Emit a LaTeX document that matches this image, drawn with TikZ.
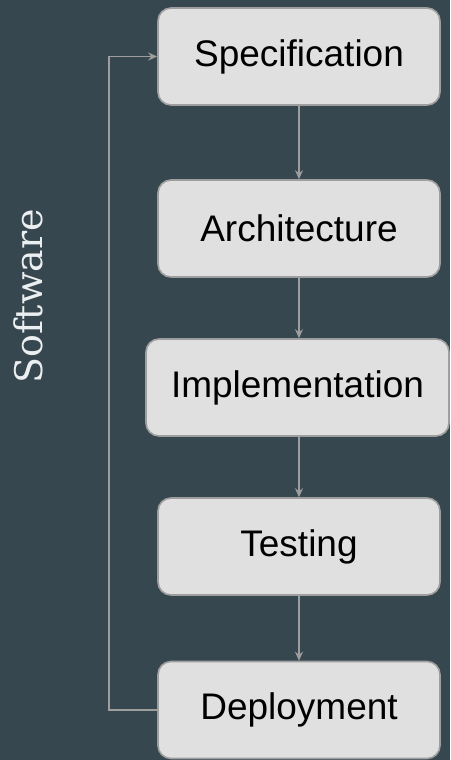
\documentclass[tikz,border=0pt]{standalone}
\usepackage{fontspec}
\setmainfont{Liberation Sans}
\newfontfamily\labelserif{DejaVu Serif}
\usetikzlibrary{arrows.meta}
\definecolor{bgslate}{HTML}{37474F}
\definecolor{boxfill}{HTML}{E0E0E0}
\definecolor{boxline}{HTML}{9E9E9E}
\definecolor{lblwhite}{HTML}{ECEFF1}
\tikzset{
  stagebox/.style={draw=boxline, line width=1.6pt, fill=boxfill, rounded corners=13pt,
    minimum width=282pt, minimum height=97pt, inner xsep=0pt,
    font=\fontsize{37}{44}\selectfont, text=black},
  flowarrow/.style={draw=boxline, line width=1.8pt, -{Stealth[length=9pt,width=8pt]}},
  flowline/.style={draw=boxline, line width=1.8pt}
}
\begin{document}
\begin{tikzpicture}[x=1pt,y=-1pt]
\fill[bgslate] (0,0) rectangle (450,760);
\useasboundingbox (0,0) rectangle (450,760);
\node[stagebox] (spec) at (299,56.5) {Specification};
\node[stagebox] (arch) at (299,228.5) {Architecture};
\node[stagebox, minimum width=303pt] (impl) at (297.5,387.5) {Implementation};
\node[stagebox] (test) at (299,546.5) {Testing};
\node[stagebox] (depl) at (299,710) {Deployment};
\draw[flowarrow] (spec.south) -- (arch.north);
\draw[flowarrow] (arch.south) -- (arch.south |- impl.north);
\draw[flowarrow] (arch.south |- impl.south) -- (test.north);
\draw[flowarrow] (test.south) -- (depl.north);
\coordinate (loopx) at (109,0);
\draw[flowarrow] (depl.west) -| (loopx |- spec.west) -- (spec.west);
\node[rotate=90, text=lblwhite, font=\labelserif\fontsize{38}{44}\selectfont] (sw) at (28,296) {Software};
\end{tikzpicture}
\end{document}
